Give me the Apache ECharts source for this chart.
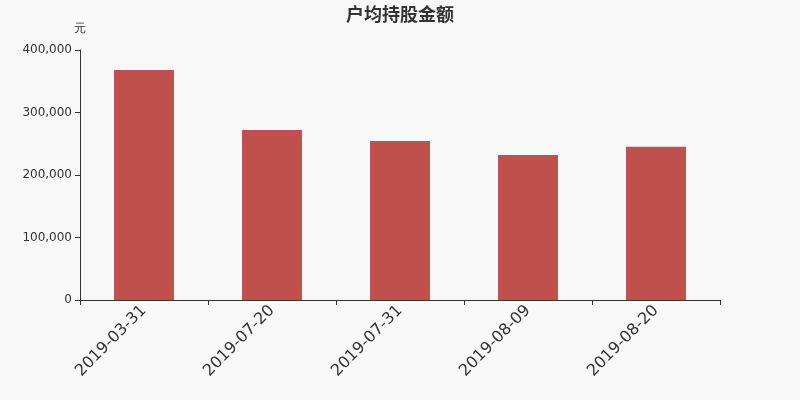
<!DOCTYPE html>
<html><head><meta charset="utf-8">
<script src="https://cdn.jsdelivr.net/npm/echarts@6/dist/echarts.min.js"></script>
<style>html,body{margin:0;padding:0;background:#f8f8f8}#c{width:800px;height:400px}</style>
</head><body><div id="c"></div>
<script>
var categories = ['2019-03-31','2019-07-20','2019-07-31','2019-08-09','2019-08-20'];
var values = [368000, 272000, 254400, 232000, 245300];
var yTicks = [0, 100000, 200000, 300000, 400000];

var chart = echarts.init(document.getElementById('c'));
chart.setOption({
  backgroundColor: '#f8f8f8',
  animation: false,
  title: {
    text: '户均持股金额', left: 'center', top: 0,
    textStyle: {fontSize: 18, fontWeight: 'bold', color: '#333', fontFamily: 'Noto Sans CJK SC'}
  },
  grid: {left: 80, right: 80, top: 50, bottom: 100},
  xAxis: {
    type: 'category', data: categories,
    axisLine: {lineStyle: {color: '#333'}},
    axisTick: {show: true, length: 5, lineStyle: {color: '#333'}},
    axisLabel: {rotate: 45, fontSize: 16, color: '#333', margin: 8, fontFamily: 'DejaVu Sans'}
  },
  yAxis: {
    type: 'value', name: '元', min: yTicks[0], max: yTicks[yTicks.length-1], interval: 100000,
    nameTextStyle: {color: '#333', fontSize: 12, align: 'center', padding: [0, 0, 0, 0]},
    nameGap: 15,
    axisLine: {show: true, lineStyle: {color: '#333'}},
    axisTick: {show: true, lineStyle: {color: '#333'}},
    splitLine: {show: false},
    axisLabel: {color: '#333', fontSize: 12, fontFamily: 'DejaVu Sans',
      formatter: function (v) { return v.toLocaleString('en-US'); }}
  },
  series: [{
    type: 'bar', data: values, barWidth: 60,
    itemStyle: {color: '#c0504e'}
  }]
});
</script></body></html>
